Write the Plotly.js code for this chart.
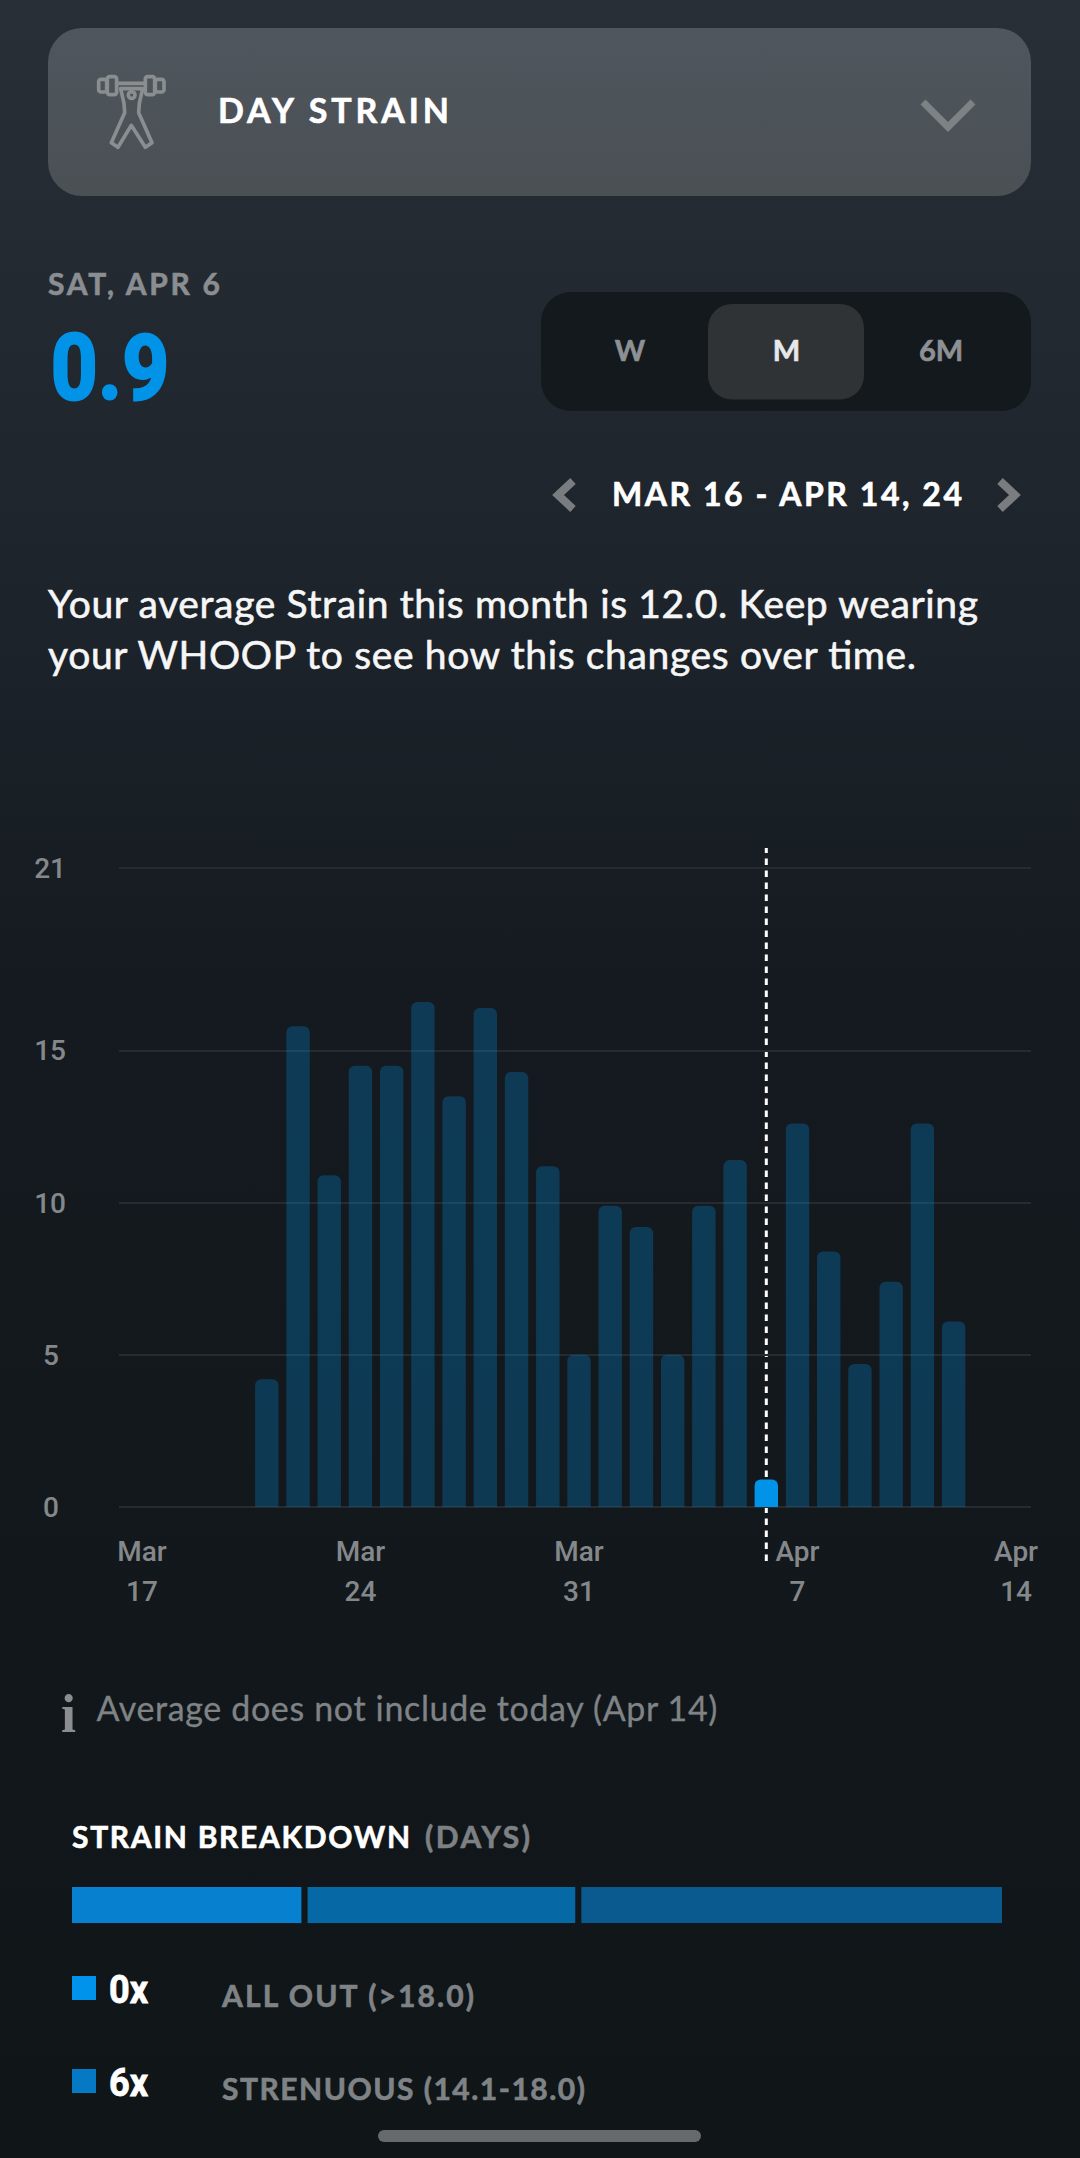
<!DOCTYPE html>
<html><head><meta charset="utf-8">
<script src="https://cdn.plot.ly/plotly-3.0.1.min.js"></script>
<style>
html,body{margin:0;padding:0;width:1080px;height:2158px;overflow:hidden;background:linear-gradient(180deg,#282f37 0,#1c232a 620px,#141a1f 1000px,#101518 2158px);}
#chrome,#chart{position:absolute;left:0;top:0;width:1080px;height:2158px;}
text{font-family:Lato,sans-serif;}
</style></head><body>
<svg id="chrome" width="1080" height="2158" viewBox="0 0 1080 2158" xmlns="http://www.w3.org/2000/svg"><defs><linearGradient id="card" x1="0" y1="0" x2="0" y2="1"><stop offset="0" stop-color="#4f565d"/><stop offset="1" stop-color="#4a5054"/></linearGradient></defs></svg>
<div id="chart"></div>
<script>
// ---- chart data ----
const days = ["2024-03-21","2024-03-22","2024-03-23","2024-03-24","2024-03-25","2024-03-26","2024-03-27","2024-03-28","2024-03-29","2024-03-30","2024-03-31","2024-04-01","2024-04-02","2024-04-03","2024-04-04","2024-04-05","2024-04-06","2024-04-07","2024-04-08","2024-04-09","2024-04-10","2024-04-11","2024-04-12"];
const strain = [4.2,15.8,10.9,14.5,14.5,16.6,13.5,16.4,14.3,11.2,5.0,9.9,9.2,5.0,9.9,11.4,0.9,12.6,8.4,4.7,7.4,12.6,6.1];
const selectedDay = "2024-04-06";
const tickDates = ["2024-03-17","2024-03-24","2024-03-31","2024-04-07","2024-04-14"];
const tickMonths = ["Mar","Mar","Mar","Apr","Apr"];
const tickDays = ["17","24","31","7","14"];
const yTicks = [0,5,10,15,21];
const yLabels = ["0\u2005","5\u2005","10","15","21"];
const breakdownDays = [6,7,11];
const breakdownColors = ["#0680cf","#0668a5","#0a5a90"];
const legendCounts = ["0x","6x"];
const legendLabels = ["ALL OUT (>18.0)","STRENUOUS (14.1-18.0)"];
const legendColors = ["#0093eb","#0679c4"];

// ---- page furniture ----
const NS="http://www.w3.org/2000/svg", svg=document.getElementById('chrome');
function el(tag,attrs,parent){const e=document.createElementNS(NS,tag);for(const k in attrs)e.setAttribute(k,attrs[k]);(parent||svg).appendChild(e);return e;}
function txt(s,x,y,size,weight,fill,len,opt){opt=opt||{};const a={x:x,y:y,'font-size':size,'font-weight':weight,fill:fill,'xml:space':'preserve'};
  if(opt.sx){a.x=0;a.transform='translate('+x+',0) scale('+opt.sx+',1)';}
  if(len){a.textLength=opt.sx?len/opt.sx:len;a.lengthAdjust='spacing';} if(opt.anchor)a['text-anchor']=opt.anchor; if(opt.font)a.style='font-family:'+opt.font;
  if(opt.stroke){a.stroke=fill;a['stroke-width']=opt.stroke;}
  const e=el('text',a);e.textContent=s;return e;}
const B={stroke:0.6};
el('rect',{x:48,y:28,width:983,height:168,rx:34,fill:'url(#card)'});
const ic=el('g',{transform:'translate(60,40) scale(0.3333)',fill:'none',stroke:'#8a8e91','stroke-width':11,'stroke-linejoin':'round','stroke-linecap':'round'});
el('rect',{x:116,y:118,width:24,height:38,rx:7},ic);el('rect',{x:142,y:110,width:28,height:54,rx:7},ic);
el('rect',{x:256,y:110,width:28,height:54,rx:7},ic);el('rect',{x:286,y:118,width:26,height:38,rx:7},ic);
el('path',{d:'M170 130H256'},ic);
el('path',{d:'M182 146H248L238 190L236 218L276 308L256 322L214 256L174 322L154 308L194 218L192 190Z'},ic);
el('circle',{cx:215,cy:165,r:10},ic);
txt('DAY STRAIN',218,123,34,700,'#ffffff',231,B);
el('path',{d:'M923 102L948 127L973 102',fill:'none',stroke:'#7d8285','stroke-width':7});
txt('SAT, APR 6',48,295,30,700,'#8b8e91',172,B);
txt('0.9',51,399.5,90,700,'#0093e7',118,{font:'Roboto',sx:0.9,stroke:3});
el('rect',{x:541,y:292,width:490,height:119,rx:30,fill:'#14191d'});
el('rect',{x:708,y:304,width:156,height:95.5,rx:24,fill:'#2f3336'});
txt('W',630,361,29,700,'#8e9194',null,{anchor:'middle',stroke:0.6});
txt('M',786.5,361,29,700,'#e8e8e8',null,{anchor:'middle',stroke:0.6});
txt('6M',941,361,29,700,'#8e9194',null,{anchor:'middle',stroke:0.6});
el('path',{d:'M573 481L558 495L573 509',fill:'none',stroke:'#797d80','stroke-width':8});
el('path',{d:'M1000 481L1015 495L1000 509',fill:'none',stroke:'#797d80','stroke-width':8});
txt('MAR 16 - APR 14, 24',612,506,32,700,'#ffffff',350,B);
txt('Your average Strain this month is 12.0. Keep wearing',48,617.5,39,400,'#f6f6f6',930,{stroke:0.6});
txt('your WHOOP to see how this changes over time.',48,669,39,400,'#f6f6f6',868,{stroke:0.6});
txt('i',61,1732,54,700,'#8a8e90',null,{font:'"Liberation Serif"'});
txt('Average does not include today (Apr 14)',96.4,1720.7,34,400,'#7f8386',621,{stroke:0.3});
txt('STRAIN BREAKDOWN',72,1848,30,700,'#ffffff',338,B);
txt('(DAYS)',425,1848,30,700,'#7d8184',105,B);
const legendBaselines=[2003,2096], labelBaselines=[2007,2100], labelLens=[252,363];
legendCounts.forEach((c,i)=>{
  el('rect',{x:72,y:legendBaselines[i]-27,width:24,height:24,fill:legendColors[i]});
  txt(c,109,legendBaselines[i],38,700,'#ffffff',null,{font:'Roboto',sx:0.95,stroke:0.8});
  txt(legendLabels[i],222,labelBaselines[i],30,700,'#7f8386',labelLens[i],B);
});
el('rect',{x:378,y:2130,width:323,height:12,rx:6,fill:'#666a6b'});

// ---- chart ----
const W=1080,H=2158, tickFont={family:'Roboto',size:28,color:'#85888b',weight:500};
const xRange=["2024-03-16 06:22","2024-04-14 11:30"];
const gap=0.16, bases=[]; let run=0;
breakdownDays.forEach(d=>{bases.push(run);run+=d+gap;});
const traces=[
 {type:'bar',x:days,y:strain,xaxis:'x',yaxis:'y',hoverinfo:'x+y',
  marker:{color:days.map(d=>d===selectedDay?'rgba(0,147,231,1)':'rgba(0,147,231,0.27)'),line:{width:0},cornerradius:6}},
 {type:'scatter',mode:'none',x:[],y:[],xaxis:'x2',yaxis:'y',showlegend:false,hoverinfo:'skip'},
 {type:'bar',orientation:'h',x:breakdownDays,y:[0,0,0],base:bases,width:1,xaxis:'x3',yaxis:'y3',hoverinfo:'x',
  marker:{color:breakdownColors,line:{width:0}}}
];
const layout={width:W,height:H,margin:{l:0,r:0,t:0,b:0,pad:0},paper_bgcolor:'rgba(0,0,0,0)',plot_bgcolor:'rgba(0,0,0,0)',
 showlegend:false,bargap:0.25,
 xaxis:{type:'date',domain:[119/W,1031/W],range:xRange,anchor:'y',tickmode:'array',tickvals:tickDates,ticktext:tickMonths,
   tickfont:tickFont,ticks:'',showgrid:false,zeroline:false,showline:false,ticklabelstandoff:23},
 xaxis2:{type:'date',overlaying:'x',domain:[119/W,1031/W],range:xRange,anchor:'y',side:'bottom',tickmode:'array',tickvals:tickDates,ticktext:tickDays,
   tickfont:tickFont,ticks:'',showgrid:false,zeroline:false,showline:false,ticklabelstandoff:63},
 yaxis:{domain:[(H-1508.5)/H,(H-866.5)/H],range:[-0.05,21.05],anchor:'x',tickmode:'array',tickvals:yTicks,ticktext:yLabels,tickfont:tickFont,
   ticks:'',gridcolor:'#252b30',gridwidth:2,zeroline:false,showline:false,ticklabelstandoff:52,automargin:false},
 xaxis3:{domain:[72/W,1002/W],range:[0,run-gap],anchor:'y3',visible:false,fixedrange:true},
 yaxis3:{domain:[(H-1923.3)/H,(H-1887)/H],range:[-0.5,0.5],anchor:'x3',visible:false,fixedrange:true},
 shapes:[{type:'line',layer:'below',xref:'x',yref:'paper',x0:selectedDay,x1:selectedDay,y0:(H-1561)/H,y1:(H-848)/H,
   line:{color:'#ffffff',width:3,dash:'6.5px,5.5px'}}]
};
Plotly.newPlot('chart',traces,layout,{displayModeBar:false,staticPlot:true});
</script></body></html>
